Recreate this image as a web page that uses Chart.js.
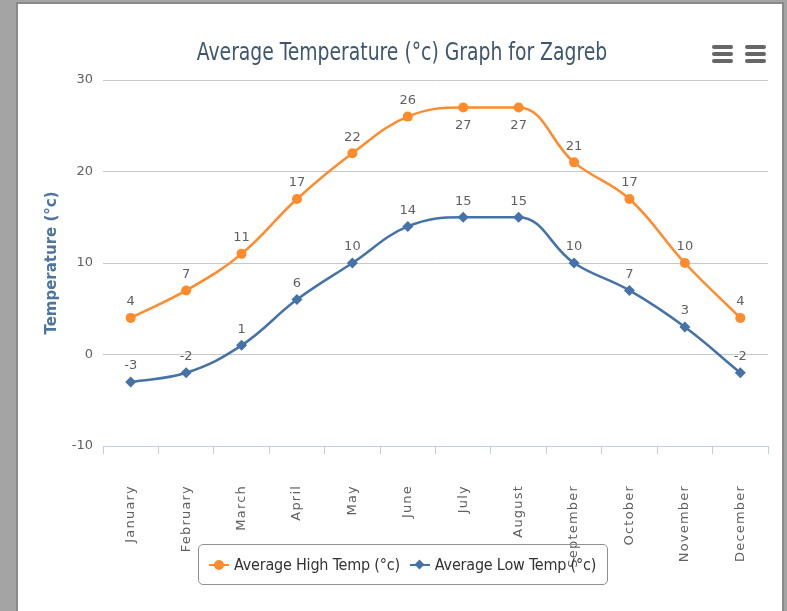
<!DOCTYPE html>
<html>
<head>
<meta charset="utf-8">
<script src="https://cdn.jsdelivr.net/npm/chart.js@4/dist/chart.umd.min.js"></script>
<style>
  html, body { margin: 0; padding: 0; }
  body { width: 787px; height: 611px; background: #a4a4a4; position: relative; overflow: hidden; }
  #panel {
    position: absolute; left: 16px; top: 2px; width: 764px; height: 620px;
    background: #fff; border: 2px solid #8a8a8a; border-bottom: none;
  }
  #chart { position: absolute; left: 0; top: 0; }
  #title {
    position: absolute; left: 2px; top: 34px; width: 764px; text-align: center;
    font-family: "DejaVu Sans Condensed", "DejaVu Sans", sans-serif; font-stretch: condensed;
    font-size: 24px; line-height: 28px; color: #3E576F; white-space: nowrap;
    transform: scaleX(0.87); transform-origin: 50% 50%;
  }
  .menu { position: absolute; top: 41px; width: 21px; }
  .menu span { display: block; height: 4px; margin-bottom: 3px; background: #666; border-radius: 2px; }
  #legend {
    position: absolute; left: 180px; top: 540px; width: 398px; height: 39px;
    border: 1px solid #909090; border-radius: 5px;
    display: flex; align-items: center; padding-left: 10px; box-sizing: content-box;
    font-family: "DejaVu Sans Condensed", "DejaVu Sans", sans-serif; font-stretch: condensed;
    font-size: 16px; letter-spacing: -0.2px; color: #333;
  }
  .item { display: flex; align-items: center; margin-right: 10px; }
  .sym { position: relative; width: 20px; height: 10px; margin-right: 5px; }
  .sym .ln { position: absolute; left: 0; right: 0; top: 4px; height: 2px; }
  .sym .dot { position: absolute; left: 5px; top: 0; width: 10px; height: 10px; border-radius: 50%; }
  .sym .dia { position: absolute; left: 6px; top: 1px; width: 7px; height: 7px; transform: rotate(45deg); }
</style>
</head>
<body>
<div id="panel">
  <canvas id="chart" width="764" height="607"></canvas>
  <div id="title">Average Temperature (°c) Graph for Zagreb</div>
  <div class="menu" style="left:694px"><span></span><span></span><span></span></div>
  <div class="menu" style="left:727px"><span></span><span></span><span></span></div>
  <div id="legend">
    <div class="item"><div class="sym"><div class="ln" style="background:#FF8B2C"></div><div class="dot" style="background:#FF8B2C"></div></div>Average High Temp (°c)</div>
    <div class="item"><div class="sym"><div class="ln" style="background:#4572A7"></div><div class="dia" style="background:#4572A7"></div></div>Average Low Temp (°c)</div>
  </div>
</div>
<script>
// --- DATA ---
const months = ['January', 'February', 'March', 'April', 'May', 'June',
                'July', 'August', 'September', 'October', 'November', 'December'];
const highTemps = [4, 7, 11, 17, 22, 26, 27, 27, 21, 17, 10, 4];
const lowTemps = [-3, -2, 1, 6, 10, 14, 15, 15, 10, 7, 3, -2];
const yTicks = [-10, 0, 10, 20, 30];

const tickFont = '"DejaVu Sans", sans-serif';

// value labels over each point (under it when it would hit the top line)
const pointLabels = {
  id: 'pointLabels',
  afterDatasetsDraw(chart) {
    const ctx = chart.ctx;
    const top = chart.chartArea.top;
    ctx.save();
    ctx.font = '13px ' + tickFont;
    ctx.fillStyle = '#606060';
    ctx.textAlign = 'center';
    ctx.textBaseline = 'middle';
    chart.data.datasets.forEach((ds, i) => {
      chart.getDatasetMeta(i).data.forEach((pt, j) => {
        let y = pt.y - 16;
        if (y - 8 < top + 6) y = pt.y + 18;
        ctx.fillText(ds.data[j], pt.x, y);
      });
    });
    ctx.restore();
  }
};

// month labels are spaced out a bit in the original
const spacedMonths = {
  id: 'spacedMonths',
  beforeDraw(chart) {
    const xs = chart.scales.x;
    if (xs._spaced) return;
    const orig = xs.drawLabels.bind(xs);
    xs.drawLabels = (area) => {
      chart.ctx.save();
      chart.ctx.letterSpacing = '1.2px';
      orig(area);
      chart.ctx.restore();
    };
    xs._spaced = true;
  }
};

// keep spline control points from overshooting neighbours (no bump on flat parts)
const noOvershoot = {
  id: 'noOvershoot',
  beforeDatasetDraw(chart, args) {
    const line = args.meta.dataset;
    line.updateControlPoints(chart.chartArea, 'x');
    const pts = line.points;
    for (let i = 1; i < pts.length - 1; i++) {
      const p = pts[i], prev = pts[i - 1], next = pts[i + 1];
      if (p.cp1y < prev.y && p.cp1y < p.y) {
        p.cp1y = Math.min(prev.y, p.y); p.cp2y = 2 * p.y - p.cp1y;
      } else if (p.cp1y > prev.y && p.cp1y > p.y) {
        p.cp1y = Math.max(prev.y, p.y); p.cp2y = 2 * p.y - p.cp1y;
      }
      if (p.cp2y < next.y && p.cp2y < p.y) {
        p.cp2y = Math.min(next.y, p.y); p.cp1y = 2 * p.y - p.cp2y;
      } else if (p.cp2y > next.y && p.cp2y > p.y) {
        p.cp2y = Math.max(next.y, p.y); p.cp1y = 2 * p.y - p.cp2y;
      }
    }
  }
};

new Chart(document.getElementById('chart'), {
  type: 'line',
  data: {
    labels: months,
    datasets: [{
      label: 'Average High Temp (°c)',
      data: highTemps,
      borderColor: '#FF8B2C',
      backgroundColor: '#FF8B2C',
      borderWidth: 2.5,
      pointStyle: 'circle',
      pointRadius: 5,
      pointBorderWidth: 0,
      tension: 0.4
    }, {
      label: 'Average Low Temp (°c)',
      data: lowTemps,
      borderColor: '#4572A7',
      backgroundColor: '#4572A7',
      borderWidth: 2.5,
      pointStyle: 'rectRot',
      pointRadius: 5.5,
      pointBorderWidth: 0,
      tension: 0.4
    }]
  },
  options: {
    responsive: false,
    animation: false,
    devicePixelRatio: 1,
    layout: { padding: { left: 0, right: 14, top: 76, bottom: 0 } },
    plugins: {
      legend: { display: false },
      tooltip: { enabled: false },
      title: { display: false }
    },
    scales: {
      x: {
        offset: true,
        afterFit: (scale) => {
          scale.height = 165;
          scale.paddingLeft = 0;
          scale.paddingRight = 0;
        },
        border: { display: true, color: '#C0D0E0', width: 1 },
        grid: { drawOnChartArea: false, drawTicks: true, tickLength: 8, color: '#C0D0E0', offset: true },
        ticks: {
          minRotation: 90, maxRotation: 90, padding: 31,
          color: '#606060', font: { family: tickFont, size: 13 }
        }
      },
      y: {
        min: -10, max: 30,
        afterFit: (scale) => { scale.width = 85; },
        afterBuildTicks: (scale) => { scale.ticks = yTicks.map(v => ({ value: v })); },
        border: { display: false },
        grid: { color: '#C8C8C8', drawTicks: false },
        ticks: { padding: 10, color: '#606060', font: { family: tickFont, size: 13 } },
        title: {
          display: true,
          text: 'Temperature (°c)',
          color: '#4D759E',
          font: { family: tickFont, size: 15, weight: 'bold' },
          padding: { top: 25, bottom: 0 }
        }
      }
    }
  },
  plugins: [pointLabels, spacedMonths, noOvershoot]
});
</script>
</body>
</html>
